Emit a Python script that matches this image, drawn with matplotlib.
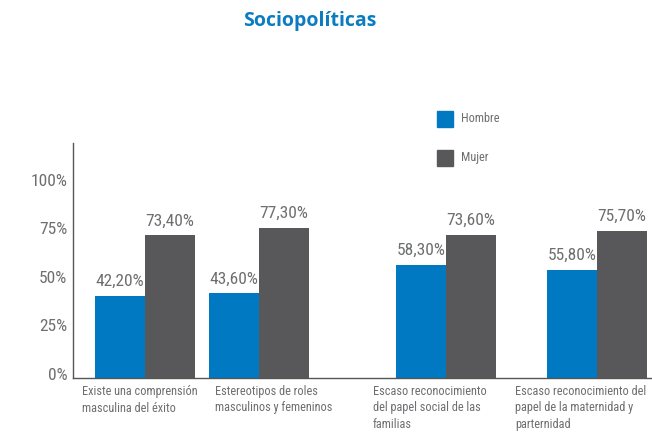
import matplotlib
matplotlib.use("Agg")
import matplotlib.pyplot as plt
import matplotlib.transforms as mtransforms
from matplotlib import font_manager

categories = [
    "Existe una comprensión\nmasculina del éxito",
    "Estereotipos de roles\nmasculinos y femeninos",
    "Escaso reconocimiento\ndel papel social de las\nfamilias",
    "Escaso reconocimiento del\npapel de la maternidad y\nparternidad",
]
hombre = [42.2, 43.6, 58.3, 55.8]
mujer = [73.4, 77.3, 73.6, 75.7]
series_names = ["Hombre", "Mujer"]
yticks = [0, 25, 50, 75, 100]
ytick_labels = ["0%", "25%", "50%", "75%", "100%"]

BLUE = "#0079c2"
GREY = "#58585a"
TEXT = "#6d6e70"

installed = {f.name for f in font_manager.fontManager.ttflist}
narrow = ["Roboto Condensed", "Liberation Sans Narrow", "Roboto", "DejaVu Sans"]
narrow = [f for f in narrow if f in installed] or ["DejaVu Sans"]

fig = plt.figure(figsize=(6.52, 4.33), dpi=100)
# axes in figure fractions: left spine at x=73px, bottom at y=378px
ax = fig.add_axes([73 / 652, 1 - 378 / 433, 1 - 73 / 652, (378 - 143) / 433])

group_x = [1.45, 2.59, 4.46, 5.97]
w = 0.5
xs_h = [g - w / 2 for g in group_x]
xs_m = [g + w / 2 for g in group_x]
ax.bar(xs_h, hombre, width=w, color=BLUE, label=series_names[0])
ax.bar(xs_m, mujer, width=w, color=GREY, label=series_names[1])

for x, v in list(zip(xs_h, hombre)) + list(zip(xs_m, mujer)):
    ax.text(x, v + 3.5, f"{v:.2f}%".replace(".", ","), ha="center", va="bottom",
            fontsize=12.5, color=TEXT, family=narrow)

ax.set_xlim(0.73, 6.52)
ax.set_ylim(0, 121)
ax.set_yticks(yticks)
ax.set_yticklabels(ytick_labels, family=narrow, fontsize=12.5, color=TEXT)
ax.tick_params(axis="y", length=0, pad=4)
lift = mtransforms.ScaledTranslation(0, 4 / 100, fig.dpi_scale_trans)
for lbl in ax.get_yticklabels():
    lbl.set_transform(lbl.get_transform() + lift)
ax.set_xticks([])
for s in ["top", "right"]:
    ax.spines[s].set_visible(False)
for s in ["left", "bottom"]:
    ax.spines[s].set_color("#555555")
    ax.spines[s].set_linewidth(1.0)

# category labels, left-aligned under each group
label_left = [82, 215, 373, 515]
for px, txt in zip(label_left, categories):
    fig.text(px / 652, 1 - 385 / 433, txt, ha="left", va="top", fontsize=8.8,
             color=TEXT, family=narrow, linespacing=1.35)

# legend drawn as squares with labels
for i, (name, col) in enumerate(zip(series_names, [BLUE, GREY])):
    y = 119 + i * 39
    fig.patches.append(plt.Rectangle((437 / 652, 1 - (y + 8) / 433), 16 / 652, 16 / 433,
                                     transform=fig.transFigure, color=col))
    fig.text(461 / 652, 1 - y / 433, name, ha="left", va="center", fontsize=8.8,
             color=TEXT, family=narrow)

fig.text(310 / 652, 1 - 21 / 433, "Sociopolíticas", ha="center", va="center",
         fontsize=14, color="#0a7cc2", fontweight="bold", family=["Open Sans", "DejaVu Sans"])

fig.savefig("out.png", dpi=100)
